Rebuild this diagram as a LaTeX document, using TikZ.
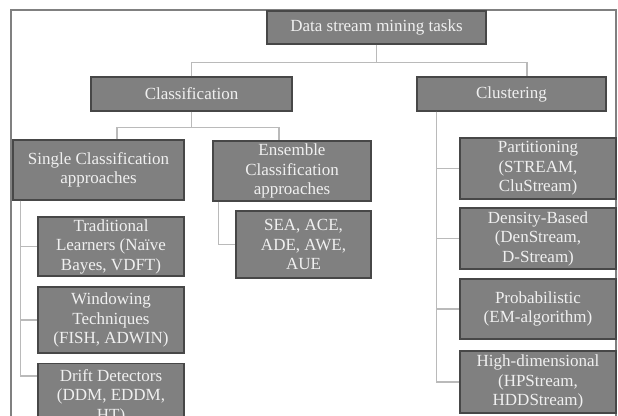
\documentclass[tikz,border=0pt]{standalone}
\usepackage{fontspec}
\setmainfont{Liberation Serif}
\usepackage{xcolor}

\tikzset{
  task/.style={draw=black!72,line width=1.3pt,fill=black!50,text=white!94!black,
    align=center,inner sep=1pt,font=\fontsize{17}{19.5}\selectfont},
  link/.style={draw=black!27,line width=1.5pt},
  frame/.style={draw=black!50,line width=1.5pt}
}

\begin{document}
\begin{tikzpicture}[x=1pt,y=-1pt]
\useasboundingbox (0,0) rectangle (618,415);
\clip (0,0) rectangle (618,415);
\draw[frame] (11,10) rectangle (616,450);
\path
    (376.5,27.5) node [task,minimum width=219pt,minimum height=33pt] (tasks) {Data stream mining tasks}
    (191.5,94) node [task,minimum width=201pt,minimum height=34pt] (classif) {Classification}
    (511.5,94) node [task,minimum width=189pt,minimum height=34pt] (clust) {Clustering}
    (98.5,170) node [task,minimum width=171pt,minimum height=60pt] (single) {Single Classification\\approaches}
    (292,171) node [task,minimum width=158pt,minimum height=60pt] (ensemble) {Ensemble\\Classification\\approaches}
    (111,246.5) node [task,minimum width=146pt,minimum height=59pt] (trad) {Traditional\\Learners (Naïve\\Bayes, VDFT)}
    (111,320) node [task,minimum width=146pt,minimum height=66pt] (window) {Windowing\\Techniques\\(FISH, ADWIN)}
    (111,363) node [task,anchor=north,minimum width=146pt,minimum height=66pt] (drift) {Drift Detectors\\(DDM, EDDM,\\HT)}
    (303.5,244.5) node [task,minimum width=135pt,minimum height=67pt] (sea) {SEA, ACE,\\ADE, AWE,\\AUE}
    (538,168.5) node [task,minimum width=156pt,minimum height=61pt] (part) {Partitioning\\(STREAM,\\CluStream)}
    (538,238.5) node [task,minimum width=156pt,minimum height=61pt] (dens) {Density-Based\\(DenStream,\\D-Stream)}
    (538,309) node [task,minimum width=156pt,minimum height=60pt] (prob) {Probabilistic\\(EM-algorithm)}
    (538,382) node [task,minimum width=156pt,minimum height=62pt] (high) {High-dimensional\\(HPStream,\\HDDStream)};
% top level
\draw[link] (tasks.south) -- ++(0,18) coordinate (bus1);
\draw[link] (classif.north) |- (bus1) -| ([xshift=15.5pt]clust.north);
% classification
\draw[link] (classif.south) -- ++(0,16) coordinate (bus2);
\draw[link] ([xshift=18.5pt]single.north) |- (bus2) -| ([xshift=-13pt]ensemble.north);
\coordinate (driftin) at ([yshift=-13pt]drift.north west);
\draw[link] ([xshift=8pt]single.south west) |- (trad.west);
\draw[link] ([xshift=8pt]single.south west) |- (window.west);
\draw[link] ([xshift=8pt]single.south west) |- (driftin);
\draw[link] ([xshift=6pt]ensemble.south west) |- (sea.west);
% clustering
\draw[link] ([xshift=20pt]clust.south west) |- (part.west);
\draw[link] ([xshift=20pt]clust.south west) |- (dens.west);
\draw[link] ([xshift=20pt]clust.south west) |- (prob.west);
\draw[link] ([xshift=20pt]clust.south west) |- (high.west);
\end{tikzpicture}
\end{document}
